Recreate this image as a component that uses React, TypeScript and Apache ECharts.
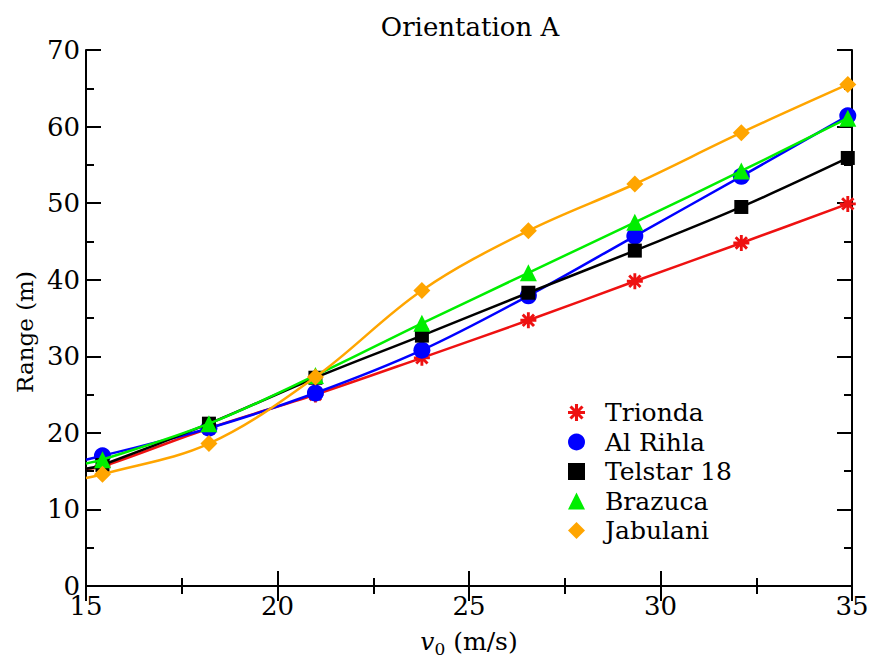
import React, { useEffect, useRef } from "react";
import * as echarts from "echarts";

const speeds = [15.43, 18.21, 20.99, 23.77, 26.55, 29.33, 32.11, 34.89];
const seriesNames = ["Trionda", "Al Rihla", "Telstar 18", "Brazuca", "Jabulani"];
const trionda = [15.6, 20.6, 25.0, 29.8, 34.7, 39.8, 44.8, 49.9];
const alRihla = [17.0, 20.6, 25.2, 30.8, 37.9, 45.7, 53.5, 61.4];
const telstar = [15.8, 21.2, 27.2, 32.7, 38.3, 43.8, 49.5, 55.9];
const brazuca = [16.5, 21.2, 27.5, 34.3, 40.9, 47.5, 54.2, 61.1];
const jabulani = [14.6, 18.6, 27.3, 38.6, 46.4, 52.5, 59.2, 65.5];
// value of each fitted curve where it meets the left axis (v0 = 15)
const curveStartX = 15;
const curveStart = [15.3, 16.5, 15.3, 16.0, 14.1];

const xTicks = [15, 20, 25, 30, 35];
const yTicks = [0, 10, 20, 30, 40, 50, 60, 70];

const FONT = "DejaVu Serif";

function asteriskPath(): string {
  const parts: string[] = [];
  const L = 50;
  const w = 9;
  for (const deg of [0, 45, 90, 135]) {
    const a = (deg * Math.PI) / 180;
    const c = Math.cos(a);
    const s = Math.sin(a);
    const pts = [
      [-L, -w],
      [L, -w],
      [L, w],
      [-L, w],
    ].map(([x, y]) => [50 + x * c - y * s, 50 + x * s + y * c]);
    parts.push(
      "M" + pts.map((p) => p[0].toFixed(2) + " " + p[1].toFixed(2)).join(" L") + " Z"
    );
  }
  return "path://" + parts.join(" ");
}

export default function App() {
  const ref = useRef<HTMLDivElement>(null);
  useEffect(() => {
    if (!ref.current) return;
    const chart = echarts.init(ref.current, null, { renderer: "svg" });
    const star = asteriskPath();
    const values = [trionda, alRihla, telstar, brazuca, jabulani];
    const colors = ["#ee1111", "#0000ff", "#000000", "#00ee00", "#ffa500"];
    const symbols = [star, "circle", "rect", "triangle", "diamond"];
    const sizes = [16, 17, 14, 17, 17];

    const series = values.map((vals, i) => ({
      name: seriesNames[i],
      type: "line",
      smooth: 0.35,
      symbol: symbols[i],
      symbolSize: sizes[i],
      showAllSymbol: true,
      lineStyle: { color: colors[i], width: 2.5 },
      itemStyle: { color: colors[i] },
      emphasis: { disabled: true },
      data: [
        { value: [curveStartX, curveStart[i]], symbol: "none" },
        ...speeds.map((x, j) => [x, vals[j]]),
      ],
      z: 2 + i,
    }));

    const tickLabel = { fontFamily: FONT, fontSize: 26, color: "#000" };
    const axisLine = { show: true, lineStyle: { color: "#000", width: 2 } };
    const tick = { show: true, inside: true, length: 15, lineStyle: { color: "#000", width: 2 } };
    const minor = { show: true, splitNumber: 2, length: 8, lineStyle: { color: "#000", width: 2 } };

    chart.setOption({
      animation: false,
      backgroundColor: "#fff",
      textStyle: { fontFamily: FONT },
      title: {
        text: "Orientation A",
        left: 465,
        textAlign: "center",
        top: 9,
        textStyle: { fontFamily: FONT, fontSize: 26, fontWeight: "normal", color: "#000" },
      },
      grid: { left: 86, right: 25, top: 50, bottom: 80, containLabel: false, outerBoundsMode: "none" },
      legend: {
        orient: "vertical",
        left: 563,
        top: 393,
        itemWidth: 17,
        itemHeight: 17,
        itemGap: 0.5,
        selectedMode: false,
        data: seriesNames.map((n, i) => ({
          name: n,
          icon: symbols[i],
          itemStyle: { color: colors[i] },
        })),
        textStyle: {
          fontFamily: FONT,
          fontSize: 25,
          lineHeight: 29,
          color: "#000",
          padding: [0, 0, 0, 15],
        },
      },
      xAxis: [
        {
          type: "value",
          min: xTicks[0],
          max: xTicks[xTicks.length - 1],
          interval: 5,
          position: "bottom",
          axisLine,
          axisTick: tick,
          minorTick: minor,
          splitLine: { show: false },
          axisLabel: { ...tickLabel, margin: 7 },
          name: "{v|v}{s|0}{n| (m/s)}",
          nameLocation: "middle",
          nameGap: 40,
          nameTextStyle: {
            rich: {
              v: { fontFamily: FONT, fontSize: 25, fontStyle: "italic", color: "#000" },
              s: { fontFamily: FONT, fontSize: 17, color: "#000", padding: [14, 0, 0, 0] },
              n: { fontFamily: FONT, fontSize: 25, color: "#000" },
            },
          },
        },
        {
          type: "value",
          min: xTicks[0],
          max: xTicks[xTicks.length - 1],
          interval: 5,
          position: "top",
          axisLine,
          axisTick: tick,
          minorTick: minor,
          splitLine: { show: false },
          axisLabel: { show: false },
        },
      ],
      yAxis: [
        {
          type: "value",
          min: yTicks[0],
          max: yTicks[yTicks.length - 1],
          interval: 10,
          position: "left",
          axisLine,
          axisTick: tick,
          minorTick: minor,
          splitLine: { show: false },
          axisLabel: { ...tickLabel, margin: 6 },
          name: "Range (m)",
          nameLocation: "middle",
          nameGap: 50,
          nameTextStyle: { fontFamily: FONT, fontSize: 23, color: "#000", padding: [0, 28, 0, 0] },
        },
        {
          type: "value",
          min: yTicks[0],
          max: yTicks[yTicks.length - 1],
          interval: 10,
          position: "right",
          axisLine,
          axisTick: tick,
          minorTick: minor,
          splitLine: { show: false },
          axisLabel: { show: false },
        },
      ],
      series,
    });
    return () => chart.dispose();
  }, []);
  return (
    <div
      ref={ref}
      style={{ position: "absolute", left: 0, top: 0, width: 877, height: 666 }}
    />
  );
}
